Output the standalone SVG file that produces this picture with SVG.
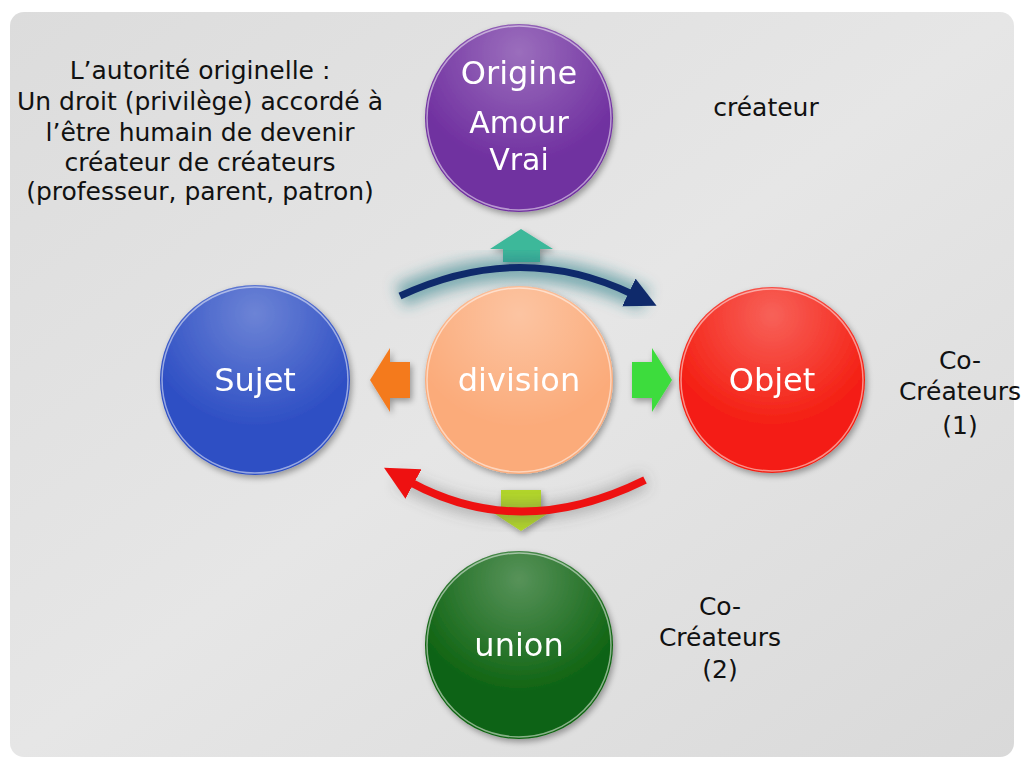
<svg xmlns="http://www.w3.org/2000/svg" width="1024" height="768" viewBox="0 0 1024 768">
<defs>
<linearGradient id="bg" x1="0" y1="0" x2="1" y2="1">
<stop offset="0" stop-color="#dcdcdc"/><stop offset="0.5" stop-color="#e6e6e6"/><stop offset="1" stop-color="#d9d9d9"/>
</linearGradient>
<radialGradient id="gloss" cx="0.5" cy="0.15" r="0.6">
<stop offset="0" stop-color="#fff" stop-opacity="0.3"/><stop offset="1" stop-color="#fff" stop-opacity="0"/>
</radialGradient>
<filter id="sh" x="-20%" y="-20%" width="140%" height="140%">
<feGaussianBlur in="SourceAlpha" stdDeviation="3"/><feOffset dx="2" dy="3"/>
<feComponentTransfer><feFuncA type="linear" slope="0.35"/></feComponentTransfer>
<feMerge><feMergeNode/><feMergeNode in="SourceGraphic"/></feMerge>
</filter>
<filter id="glow" x="-30%" y="-60%" width="160%" height="220%">
<feGaussianBlur stdDeviation="7"/>
</filter>
<marker id="navyHead" markerWidth="4.4" markerHeight="4.4" refX="0.5" refY="2.2" orient="auto" markerUnits="strokeWidth">
<path d="M0,0 L4.4,2.2 L0,4.4 Z" fill="#0f2a6b"/>
</marker>
<marker id="redHead" markerWidth="4.2" markerHeight="4.2" refX="0.5" refY="2.1" orient="auto" markerUnits="strokeWidth">
<path d="M0,0 L4.2,2.1 L0,4.2 Z" fill="#ee1111"/>
</marker>
<style>
.lbl{font-family:"Century Gothic","URW Gothic","DejaVu Sans","Liberation Sans",sans-serif;fill:#111;font-size:25px;text-anchor:middle}
.ct{font-family:"Century Gothic","URW Gothic","DejaVu Sans","Liberation Sans",sans-serif;fill:#fff;font-size:32px;text-anchor:middle;dominant-baseline:central}
.sm{font-size:30px}
.rim{fill:none;stroke:#fff;stroke-opacity:0.5;stroke-width:1.5}
</style>
</defs>
<rect x="0" y="0" width="1024" height="768" fill="#fff"/>
<rect x="10" y="12" width="1004" height="745" rx="14" fill="url(#bg)"/>

<g id="connectors">
<g id="arrow-up" filter="url(#sh)"><path d="M521,229 L553,249 L540,249 L540,262 L503,262 L503,249 L490,249 Z" fill="#3cb89a"/></g>
<g id="arrow-left" filter="url(#sh)"><path d="M370,380 L390,348 L390,362 L410,362 L410,398 L390,398 L390,412 Z" fill="#f47a1f"/></g>
<g id="arrow-right" filter="url(#sh)"><path d="M672,380 L652,348 L652,362 L632,362 L632,398 L652,398 L652,412 Z" fill="#3ddc3d"/></g>
<g id="arrow-down" filter="url(#sh)"><path d="M521,531 L553,510 L541,510 L541,490 L501,490 L501,510 L489,510 Z" fill="#b2d62a"/></g>
<path d="M400,296 Q520,240 645,300" fill="none" stroke="#2a7d86" stroke-width="24" stroke-opacity="0.55" filter="url(#glow)"/>
<path d="M400,296 Q520,240 632,294" fill="none" stroke="#0f2a6b" stroke-width="7" marker-end="url(#navyHead)"/>
<path d="M645,480 Q520,545 400,480" fill="none" stroke="#555" stroke-width="16" stroke-opacity="0.35" filter="url(#glow)"/>
<path d="M645,480 Q520,542 410,482" fill="none" stroke="#ee1111" stroke-width="8" marker-end="url(#redHead)"/>
</g>

<g id="node-origine" filter="url(#sh)">
<circle cx="519" cy="118" r="94" fill="#7030a0"/>
<circle cx="519" cy="118" r="94" fill="url(#gloss)"/>
<circle cx="519" cy="118" r="92" class="rim"/>
<text class="ct" x="519" y="73">Origine</text>
<text class="ct sm" x="519" y="122">Amour</text>
<text class="ct sm" x="519" y="159">Vrai</text>
</g>
<g id="node-sujet" filter="url(#sh)">
<circle cx="255" cy="380" r="95" fill="#2e4fc4"/>
<circle cx="255" cy="380" r="95" fill="url(#gloss)"/>
<circle cx="255" cy="380" r="93" class="rim"/>
<text class="ct" x="255" y="380">Sujet</text>
</g>
<g id="node-division" filter="url(#sh)">
<circle cx="519" cy="380" r="94" fill="#fbab7a"/>
<circle cx="519" cy="380" r="94" fill="url(#gloss)"/>
<circle cx="519" cy="380" r="92" class="rim"/>
<text class="ct" x="519" y="380">division</text>
</g>
<g id="node-objet" filter="url(#sh)">
<circle cx="772" cy="380" r="93" fill="#f41e12"/>
<circle cx="772" cy="380" r="93" fill="url(#gloss)"/>
<circle cx="772" cy="380" r="91" class="rim"/>
<text class="ct" x="772" y="380">Objet</text>
</g>
<g id="node-union" filter="url(#sh)">
<circle cx="519" cy="645" r="94" fill="#0f6412"/>
<circle cx="519" cy="645" r="94" fill="url(#gloss)"/>
<circle cx="519" cy="645" r="92" class="rim"/>
<text class="ct" x="519" y="645">union</text>
</g>

<g id="label-autorite">
<text class="lbl" x="200" y="79">L’autorité originelle :</text>
<text class="lbl" x="200" y="110">Un droit (privilège) accordé à</text>
<text class="lbl" x="200" y="141">l’être humain de devenir</text>
<text class="lbl" x="200" y="171">créateur de créateurs</text>
<text class="lbl" x="200" y="200">(professeur, parent, patron)</text>
</g>
<g id="label-createur"><text class="lbl" x="766" y="116">créateur</text></g>
<g id="label-cocreateurs1">
<text class="lbl" x="960" y="369">Co-</text>
<text class="lbl" x="960" y="400">Créateurs</text>
<text class="lbl" x="960" y="434">(1)</text>
</g>
<g id="label-cocreateurs2">
<text class="lbl" x="720" y="615">Co-</text>
<text class="lbl" x="720" y="646">Créateurs</text>
<text class="lbl" x="720" y="678">(2)</text>
</g>
</svg>
